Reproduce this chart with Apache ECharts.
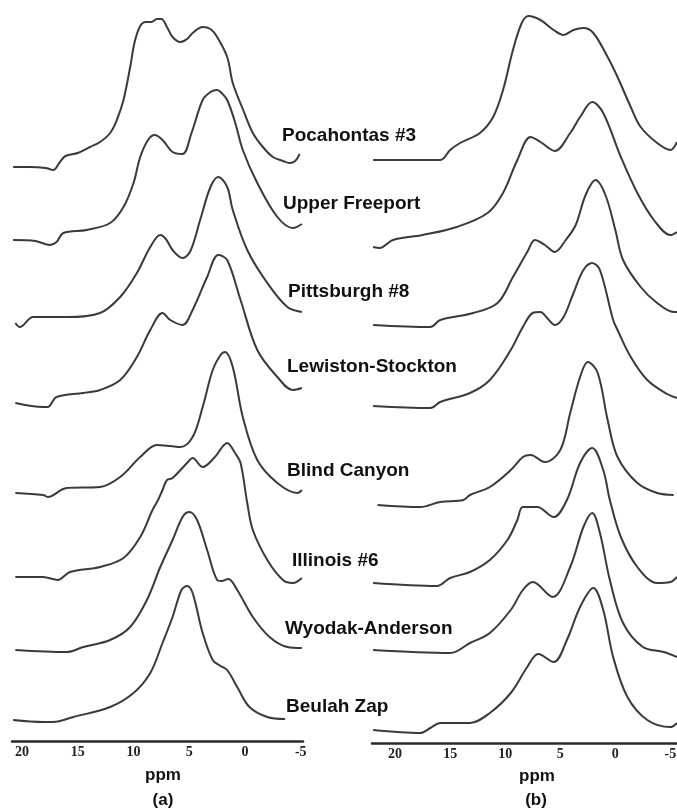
<!DOCTYPE html>
<html>
<head>
<meta charset="utf-8">
<script src="https://cdn.jsdelivr.net/npm/echarts@6.0.0/dist/echarts.min.js"></script>
<style>
  html, body { margin: 0; padding: 0; background: #ffffff; }
  #chart { width: 677px; height: 810px; }
</style>
</head>
<body>
<div id="chart"></div>
<script>
// Coal samples, top to bottom
const samples = ['Pocahontas #3', 'Upper Freeport', 'Pittsburgh #8', 'Lewiston-Stockton',
                 'Blind Canyon', 'Illinois #6', 'Wyodak-Anderson', 'Beulah Zap'];

// Axis tick labels (ppm)
const ppmTicks = [20, 15, 10, 5, 0, -5];

// Vertical stacking offset of each spectrum (a.u.)
const offsetsA = [574, 501, 418, 338, 248, 164, 91, 21];
const offsetsB = [583, 496, 418, 337, 238, 160, 93, 13];

// Panel (a) spectra: [ppm, intensity]
const pocA = [[20.8,0],[19.3,0],[17.9,-1],[17.2,-3],[16.6,5],[16.1,11],[15.0,14],[13.9,20],[13.0,25],[12.1,34],[11.5,47],[10.9,67],[10.3,100],[9.9,125],[9.4,141],[8.9,145],[8.4,145],[7.9,148],[7.5,148],[7.0,140],[6.5,130],[5.8,125],[5.2,128],[4.6,135],[3.8,140],[3.1,138],[2.5,130],[1.6,110],[1.1,84],[0.2,58],[-0.7,34],[-1.6,20],[-2.5,10],[-3.4,6],[-4.0,4],[-4.5,6],[-4.9,13]];
const ufA = [[20.8,0],[18.8,-1],[17.5,-5],[16.9,-2],[16.3,7],[14.2,10],[12.1,17],[10.9,33],[10.0,57],[9.4,83],[8.7,100],[8.1,105],[7.4,100],[6.5,88],[5.6,86],[4.8,107],[3.8,140],[3.1,148],[2.5,150],[2.1,147],[1.6,140],[0.9,118],[0.2,90],[-1.1,57],[-2.9,23],[-4.3,12],[-5.1,16]];
const pittA = [[20.6,0],[20.2,-4],[19.0,6],[16.0,6],[13.0,10],[11.2,26],[9.7,50],[8.5,76],[7.6,88],[7.1,84],[6.5,73],[5.6,65],[4.9,72],[4.0,104],[3.1,136],[2.4,146],[1.6,136],[1.1,113],[-0.2,73],[-2.0,40],[-3.8,16],[-5.1,11]];
const lewA = [[20.6,0],[18.1,-4],[17.7,-4],[16.9,6],[14.5,10],[13.0,13],[11.2,23],[9.7,46],[8.5,73],[7.4,90],[6.7,83],[5.6,78],[4.7,93],[3.4,126],[2.4,148],[1.6,143],[0.4,103],[-1.1,53],[-2.9,26],[-4.3,13],[-5.1,15]];
const bcA = [[20.6,0],[18.1,-2],[17.7,-4],[16.0,5],[13.0,6],[11.2,16],[9.4,36],[7.9,48],[6.7,47],[5.8,46],[4.7,56],[3.8,86],[2.9,123],[2.2,138],[1.8,141],[1.1,126],[0.2,76],[-1.1,33],[-2.9,10],[-4.7,0],[-5.1,3]];
const illA = [[20.6,0],[18.1,0],[16.8,-3],[15.7,5],[13.0,10],[10.9,19],[9.4,40],[8.3,67],[7.8,77],[7.4,87],[7.0,97],[6.5,99],[5.2,114],[4.7,119],[3.8,110],[2.7,120],[1.6,134],[0.9,124],[0.4,114],[-0.2,74],[-0.7,47],[-2.0,17],[-3.4,-3],[-4.3,-6],[-5.1,-1]];
const wyA = [[20.6,0],[16.0,-2],[14.5,3],[12.1,10],[10.3,23],[8.8,50],[7.6,83],[6.5,110],[5.6,133],[5.0,138],[4.3,130],[3.4,100],[2.5,70],[2.1,69],[1.5,71],[0.7,60],[-0.7,33],[-2.2,13],[-3.8,3],[-5.1,2]];
const beuA = [[20.8,0],[18.1,-2],[17.2,-2],[15.4,3],[12.1,13],[10.0,27],[8.5,47],[7.4,77],[6.5,103],[5.7,130],[5.2,134],[4.7,127],[3.8,87],[2.9,60],[2.2,54],[1.6,50],[0.7,33],[-0.4,13],[-2.0,3],[-3.6,1]];

// Panel (b) spectra: [ppm, intensity]
const pocB = [[22.0,0],[15.9,0],[15.0,10],[14.1,17],[12.3,27],[11.1,43],[10.2,70],[9.3,110],[8.5,137],[7.9,144],[6.8,140],[5.6,130],[4.7,125],[3.8,130],[2.9,132],[2.0,127],[0.7,103],[-0.2,83],[-1.4,53],[-2.3,33],[-3.8,17],[-5.0,10],[-5.6,18]];
const ufB = [[22.0,0],[21.4,-1],[20.2,7],[17.5,12],[14.4,20],[11.6,34],[10.2,54],[8.9,87],[7.7,110],[6.8,105],[5.5,96],[4.1,114],[3.2,130],[2.1,145],[1.1,134],[-0.5,90],[-2.0,54],[-3.5,27],[-5.0,12],[-5.6,15]];
const pittB = [[22.0,0],[16.8,-2],[15.9,5],[12.9,12],[10.7,22],[9.3,48],[8.0,73],[7.3,85],[6.4,80],[5.5,73],[4.5,85],[3.6,100],[2.7,130],[1.8,145],[0.9,130],[0.0,95],[-0.7,65],[-2.3,38],[-3.8,22],[-5.3,13],[-5.6,13]];
const lewB = [[22.0,0],[16.8,-2],[15.9,4],[13.2,13],[11.4,26],[9.5,56],[8.4,79],[7.5,93],[6.8,94],[6.2,88],[5.5,81],[4.7,89],[3.8,113],[2.9,136],[2.1,143],[1.4,136],[0.2,86],[-0.2,76],[-1.4,49],[-2.9,26],[-4.7,12],[-5.6,8]];
const bcB = [[21.6,0],[17.7,-2],[15.9,3],[13.8,5],[13.2,10],[11.4,18],[9.5,35],[8.4,48],[7.7,50],[6.4,43],[5.0,55],[4.1,92],[3.2,128],[2.5,143],[1.6,132],[0.7,85],[-0.2,48],[-2.0,22],[-3.8,12],[-5.3,10]];
const illB = [[22.0,0],[16.2,-3],[15.0,5],[13.2,11],[11.4,23],[9.8,43],[8.9,63],[8.4,76],[7.1,76],[5.6,66],[4.4,83],[3.2,120],[2.1,135],[1.1,113],[0.5,83],[-0.5,46],[-2.0,16],[-3.8,0],[-5.0,1],[-5.6,6]];
const wyB = [[22.0,0],[15.0,-3],[13.2,7],[11.4,17],[9.5,40],[8.4,60],[7.5,68],[5.7,53],[4.1,83],[2.9,123],[2.1,137],[1.4,117],[0.5,70],[-0.7,27],[-2.5,3],[-4.4,-2],[-5.6,-7]];
const beuB = [[22.0,0],[17.7,-3],[16.8,2],[15.9,7],[13.2,7],[11.4,17],[9.5,37],[8.0,63],[7.0,76],[5.6,68],[4.4,90],[3.2,123],[2.0,142],[1.1,120],[0.2,73],[-1.1,33],[-2.9,10],[-5.0,3],[-5.6,7]];

const spectraA = [pocA, ufA, pittA, lewA, bcA, illA, wyA, beuA];
const spectraB = [pocB, ufB, pittB, lewB, bcB, illB, wyB, beuB];

const ink = '#3a3a3a';

function traceSeries(points, offset, idx) {
  return {
    type: 'line',
    xAxisIndex: idx,
    yAxisIndex: idx,
    data: points.map(p => [p[0], p[1] + offset]),
    smooth: 0.35,
    showSymbol: false,
    silent: true,
    lineStyle: { color: ink, width: 2 }
  };
}

function ppmAxis(gridIndex, min, max) {
  return {
    type: 'value',
    gridIndex: gridIndex,
    inverse: true,
    min: min,
    max: max,
    splitNumber: 5,
    position: 'bottom',
    axisLine: { show: true, lineStyle: { color: '#2a2a2a', width: 2.5 } },
    axisTick: { show: false },
    splitLine: { show: false },
    axisLabel: {
      margin: 4,
      color: '#222',
      fontFamily: 'Liberation Serif, DejaVu Serif, serif',
      fontWeight: 'bold',
      fontSize: 14,
      showMinLabel: false,
      showMaxLabel: false,
      hideOverlap: false,
      formatter: v => (ppmTicks.indexOf(v) >= 0 ? String(v) : '')
    }
  };
}

const labelFont = 'bold 19px "Liberation Sans", Arial, sans-serif';
const sampleLabelLayout = [
  [282, 137], [283, 205], [288, 293], [287, 368],
  [287, 472], [292, 562], [285, 630], [286, 708]
];

const graphics = samples.map((name, i) => ({
  type: 'text',
  left: sampleLabelLayout[i][0],
  top: sampleLabelLayout[i][1] - 11,
  style: { text: name, font: labelFont, fill: '#111' },
  silent: true
}));

const captionFont = 'bold 17px "Liberation Sans", Arial, sans-serif';
[['ppm', 163, 775], ['(a)', 163, 800], ['ppm', 537, 776], ['(b)', 536, 800]].forEach(c => {
  graphics.push({
    type: 'text',
    x: c[1], y: c[2],
    style: { text: c[0], font: captionFont, fill: '#111', align: 'center', verticalAlign: 'middle' },
    silent: true
  });
});

const chart = echarts.init(document.getElementById('chart'), null, { renderer: 'canvas' });

chart.setOption({
  animation: false,
  backgroundColor: '#ffffff',
  grid: [
    { left: 12, width: 291, top: 0, height: 741, containLabel: false, outerBoundsMode: 'none' },
    { left: 372, width: 305, top: 0, height: 743, containLabel: false, outerBoundsMode: 'none' }
  ],
  xAxis: [ppmAxis(0, -5.2, 20.9), ppmAxis(1, -5.6, 22.1)],
  yAxis: [
    { type: 'value', gridIndex: 0, min: 0, max: 741, show: false },
    { type: 'value', gridIndex: 1, min: 0, max: 743, show: false }
  ],
  series: [
    ...spectraA.map((s, i) => traceSeries(s, offsetsA[i], 0)),
    ...spectraB.map((s, i) => traceSeries(s, offsetsB[i], 1))
  ],
  graphic: graphics
});
</script>
</body>
</html>
